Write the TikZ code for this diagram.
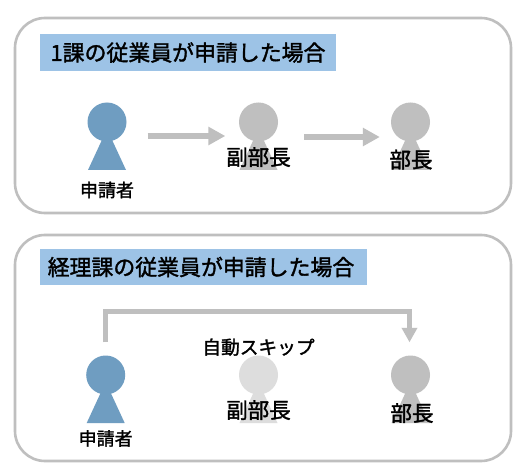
\documentclass[tikz,border=0pt]{standalone}
\usepackage{fontspec}
\setmainfont{Noto Sans CJK JP}[FakeBold=1.6]
\usepackage{xcolor}
\usetikzlibrary{positioning,arrows.meta}
\definecolor{panelgray}{HTML}{BFBFBF}
\definecolor{titleblue}{HTML}{9DC3E6}
\definecolor{personblue}{HTML}{6F9DC1}
\definecolor{skipgray}{HTML}{DDDDDD}
\newcommand{\person}[3]{% name, centre, colour
  \node[head, fill=#3] (#1) at (#2) {};
  \fill[#3] ([yshift=-7pt]#1.center) -- ([shift={(-19pt,-48pt)}]#1.center) -- ([shift={(19pt,-48pt)}]#1.center) -- cycle;
}

\begin{document}
\begin{tikzpicture}[
      x=1pt, y=-1pt,
      panel/.style={draw=panelgray, line width=2.6pt, rounded corners=30pt},
      titlebox/.style={fill=titleblue, minimum height=37pt, inner xsep=0pt, inner ysep=0pt, font=\fontsize{21.9}{25}\selectfont},
      head/.style={circle, inner sep=0pt, minimum size=39pt},
      big/.style={font=\fontsize{21.5}{25}\selectfont, inner sep=0pt},
      small/.style={font=\fontsize{18}{22}\selectfont, inner sep=0pt},
      arr/.style={-{Triangle[length=17pt, width=17.5pt]}, line width=5.7pt, panelgray}]
    \useasboundingbox (0,0) rectangle (528,476);
    \fill[white] (0,0) rectangle (528,476);
    \draw[panel] (15,18) rectangle (511,213);
    \draw[panel] (15,235) rectangle (511,461);
    \node[titlebox, minimum width=296pt] (title1) at (188,52.5) {1課の従業員が申請した場合};
    \node[titlebox, minimum width=327pt, minimum height=36pt] (title2) at (203.5,267) {\hspace*{-5pt}経理課の従業員が申請した場合};
    % upper panel
    \person{app1}{107,122}{personblue}
    \person{vice1}{258.5,122}{panelgray}
    \person{head1}{410.5,122}{panelgray}
    \node[small, below=59.5pt of app1.center] (appl1) {申請者};
    \node[big, below=25pt of vice1.center] (vicel1) {副部長};
    \node[big, below=27.5pt of head1.center, xshift=.5pt] (headl1) {部長};
    \draw[arr, shorten <=21pt, shorten >=13.5pt] ([yshift=-14pt]app1.east) -- ([yshift=-14pt]vice1.west);
    \draw[arr, shorten <=26pt, shorten >=11pt] ([yshift=-15pt]vice1.east) -- ([yshift=-15pt]head1.west);
    % lower panel
    \person{app2}{105.7,375}{personblue}
    \person{vice2}{258.5,375}{skipgray}
    \person{head2}{410.5,375}{panelgray}
    \node[small, below=55pt of app2.center] (appl2) {申請者};
    \node[big, below=25pt of vice2.center] (vicel2) {副部長};
    \node[big, below=28pt of head2.center, xshift=1.5pt] (headl2) {部長};
    \node[font=\fontsize{18.7}{22}\selectfont, inner sep=0pt, above=19pt of vice2.center] (skip) {自動スキップ};
    \draw[arr, -{Triangle[length=14.5pt, width=15pt]}, line width=4.8pt, shorten <=13pt, shorten >=13pt]
      (app2.north) -- ++(0,-44) -| ([xshift=-1pt]head2.north);
\end{tikzpicture}
\end{document}
